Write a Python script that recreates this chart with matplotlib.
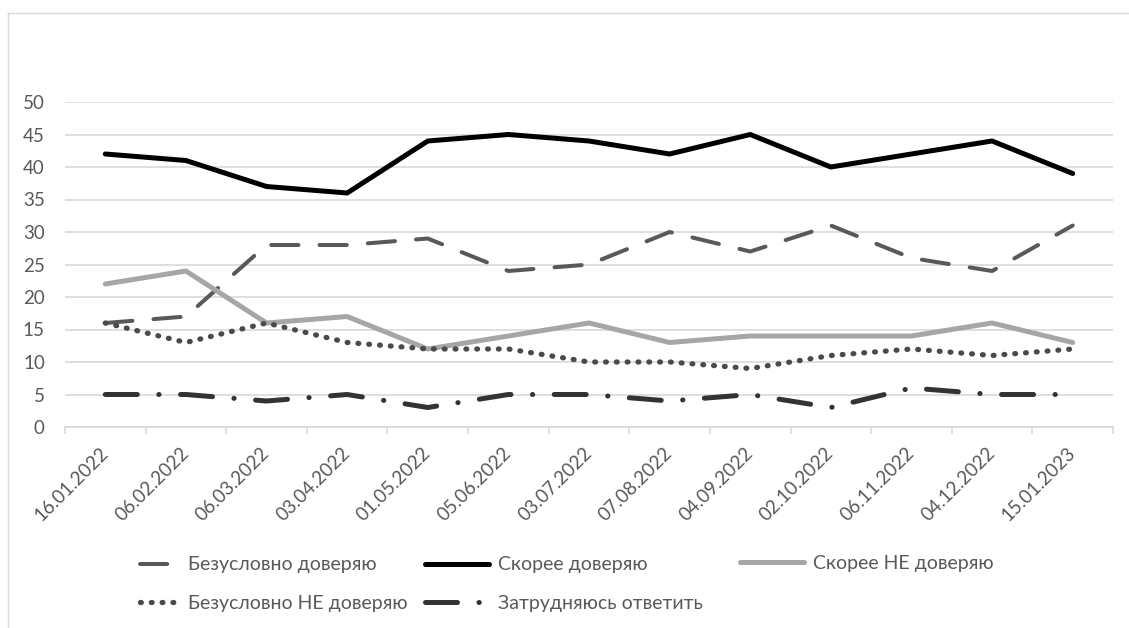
import numpy as np
import matplotlib
matplotlib.use('Agg')
import matplotlib.pyplot as plt
import matplotlib.transforms as mtransforms
from matplotlib.lines import Line2D

plt.rcParams['font.family'] = ['Lato', 'Open Sans', 'DejaVu Sans']

dates = ['16.01.2022', '06.02.2022', '06.03.2022', '03.04.2022', '01.05.2022',
         '05.06.2022', '03.07.2022', '07.08.2022', '04.09.2022', '02.10.2022',
         '06.11.2022', '04.12.2022', '15.01.2023']

bezuslovno_doveryayu = [16, 17, 28, 28, 29, 24, 25, 30, 27, 31, 26, 24, 31]
skoree_doveryayu = [42, 41, 37, 36, 44, 45, 44, 42, 45, 40, 42, 44, 39]
skoree_ne_doveryayu = [22, 24, 16, 17, 12, 14, 16, 13, 14, 14, 14, 16, 13]
bezuslovno_ne_doveryayu = [16, 13, 16, 13, 12, 12, 10, 10, 9, 11, 12, 11, 12]
zatrudnyayus = [5, 5, 4, 5, 3, 5, 5, 4, 5, 3, 6, 5, 5]

text_col = '#595959'
grid_col = '#d9d9d9'

fig = plt.figure(figsize=(11.29, 6.28), dpi=100)
ax = fig.add_axes([65 / 1129, 1 - 427 / 628, (1113 - 65) / 1129, (427 - 102) / 628])

x = np.arange(len(dates))

l_bd, = ax.plot(x, bezuslovno_doveryayu, color='#595959', lw=2.9, dashes=(6.75, 5.25),
                dash_capstyle='round', label='Безусловно доверяю')
l_sd, = ax.plot(x, skoree_doveryayu, color='black', lw=3.6, solid_capstyle='round',
                label='Скорее доверяю')
l_snd, = ax.plot(x, skoree_ne_doveryayu, color='#a6a6a6', lw=3.6, solid_capstyle='round',
                 label='Скорее НЕ доверяю')
l_bnd, = ax.plot(x, bezuslovno_ne_doveryayu, color='#4a4a4a', lw=3.8, dashes=(0.15, 1.9),
                 dash_capstyle='round', label='Безусловно НЕ доверяю')
l_z, = ax.plot(x, zatrudnyayus, color='#333333', lw=3.6, dashes=(6.4, 4.3, 0.05, 4.3),
               dash_capstyle='round', label='Затрудняюсь ответить')

ax.set_xlim(-0.5, len(dates) - 0.5)
ax.set_ylim(0, 50)
ax.set_yticks(np.arange(0, 51, 5))
ax.set_xticks(x)
ax.set_xticklabels(dates, rotation=45, ha='right', va='center', rotation_mode='anchor')
ax.set_xticks(np.arange(-0.5, len(dates), 1), minor=True)

shift = mtransforms.ScaledTranslation(6 / 100, 0, fig.dpi_scale_trans)
for lbl in ax.get_xticklabels():
    lbl.set_transform(lbl.get_transform() + shift)

ax.tick_params(axis='x', which='major', length=0, pad=17, labelsize=13.5, labelcolor=text_col)
ax.tick_params(axis='x', which='minor', length=5, color=grid_col, width=1.2)
ax.tick_params(axis='y', length=0, pad=14.5, labelsize=13.5, labelcolor=text_col)

ax.grid(axis='y', color=grid_col, lw=1.2)
ax.set_axisbelow(True)
for s in ['top', 'right', 'left']:
    ax.spines[s].set_visible(False)
ax.spines['bottom'].set_color(grid_col)
ax.spines['bottom'].set_linewidth(1.2)

# legend laid out like the reference: three columns placed by hand
leg_y = 1 - 584 / 628
columns = [([l_bd, l_bnd], 140, 2.0), ([l_sd, l_z], 425, 3.3), ([l_snd], 740, 3.3)]
for handles, x0, hl in columns:
    anchor_y = leg_y if len(handles) == 2 else 1 - 563 / 628
    leg = fig.legend(handles=handles, loc='center left', bbox_to_anchor=(x0 / 1129, anchor_y),
                     ncol=1, frameon=False, fontsize=14, handlelength=hl, handletextpad=0.45,
                     labelspacing=1.1, borderpad=0, borderaxespad=0)
    for t in leg.get_texts():
        t.set_color(text_col)

# light frame around the chart area
fig.add_artist(Line2D([8 / 1129, 1], [1 - 13 / 628, 1 - 13 / 628], color=grid_col, lw=1))
fig.add_artist(Line2D([8 / 1129, 8 / 1129], [0, 1 - 13 / 628], color=grid_col, lw=1))

fig.savefig('out.png', dpi=100)
